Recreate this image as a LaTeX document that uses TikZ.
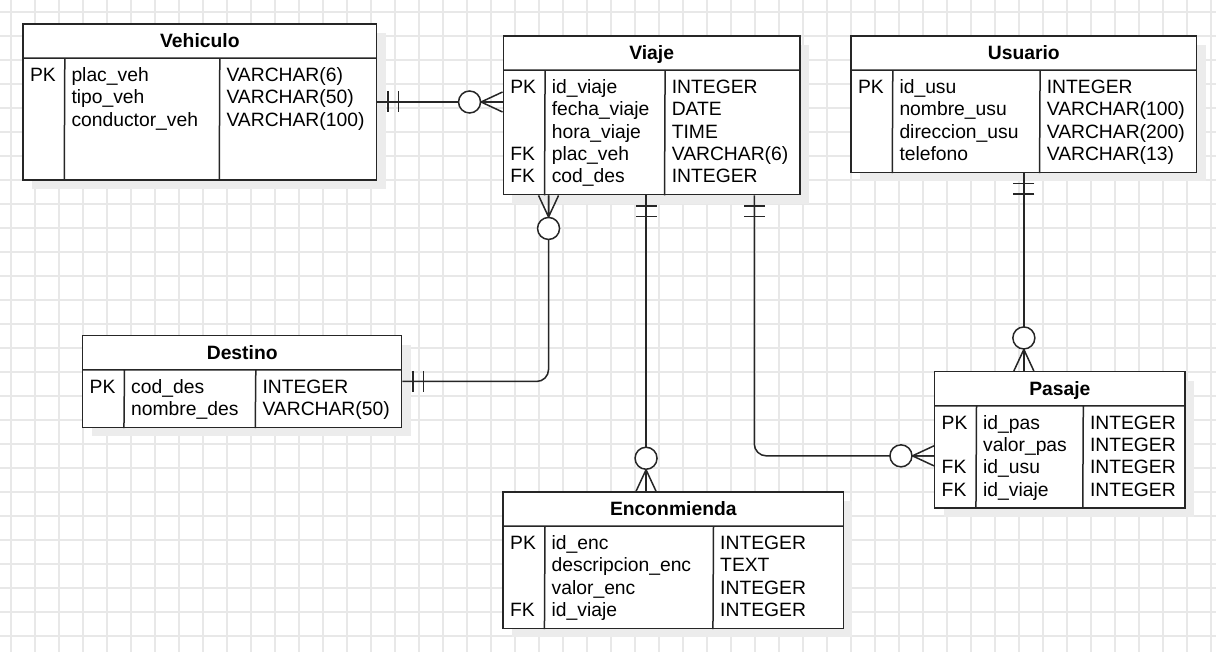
\documentclass[tikz,border=0pt]{standalone}
\usepackage{fontspec}
\setmainfont{Liberation Sans}
\usetikzlibrary{positioning}
\usetikzlibrary{shadows}

\begin{document}
\begin{tikzpicture}[x=1pt, y=-1pt,
    font=\fontsize{19.3pt}{22.3pt}\selectfont,
    gridline/.style = {draw=gray!18, line width=1.6pt},
    tbl/.style = {draw=black!85, line width=1.5pt, fill=white, inner sep=0pt,
        drop shadow={shadow xshift=9pt, shadow yshift=-9pt, fill=gray!15, opacity=1}},
    ttl/.style = {font=\fontsize{19.3pt}{22.3pt}\selectfont\bfseries, inner sep=0pt,
        minimum height=34.5pt, text height=13.8pt, text depth=0pt},
    cell/.style = {inner sep=0pt, anchor=base west},
    rel/.style = {draw=black!85, line width=1.5pt},
    one/.pic = {\draw[rel] (10.5,-10.5) -- (10.5,10.5) (21,-10.5) -- (21,10.5);},
    many/.pic = {\draw[rel] (0,-10) -- (21.5,0) -- (0,10) (0,0) -- (21.5,0);
        \draw[rel, fill=white] (33,0) circle[radius=11];}]
    \useasboundingbox[fill=white] (0,0) rectangle (1216,652);
    % grid
    \foreach \gx in {11,35,...,1211} \draw[gridline] (\gx,0) -- (\gx,652);
    \foreach \gy in {12,36,...,636} \draw[gridline] (0,\gy) -- (1216,\gy);

    % Vehiculo
    \node[tbl, minimum width=353.7pt, minimum height=156pt] (vehiculo) at (199.85,102) {};
    \node[ttl, minimum width=353.7pt] (vehiculo-t) [below=0pt of vehiculo.north] {Vehiculo};
    \draw[rel] (vehiculo-t.south west) -- (vehiculo-t.south east)
        ([xshift=42pt]vehiculo-t.south west) -- ([xshift=42pt]vehiculo.south west)
        ([xshift=197pt]vehiculo-t.south west) -- ([xshift=197pt]vehiculo.south west);
    \foreach \ky/\nm/\ty [count=\i] in {PK/plac\_veh/VARCHAR(6), /tipo\_veh/VARCHAR(50), /conductor\_veh/VARCHAR(100)}
    {
        \node[cell] (vehiculo-k\i) at ([shift={(7,22.3*\i+1)}]vehiculo-t.south west) {\ky};
        \node[cell] (vehiculo-n\i) at ([shift={(48.5,22.3*\i+1)}]vehiculo-t.south west) {\nm};
        \node[cell] (vehiculo-d\i) at ([shift={(203.5,22.3*\i+1)}]vehiculo-t.south west) {\ty};
    }

    % Viaje
    \node[tbl, minimum width=296.7pt, minimum height=158.7pt] (viaje) at (651.65,115.35) {};
    \node[ttl, minimum width=296.7pt] (viaje-t) [below=0pt of viaje.north] {Viaje};
    \draw[rel] (viaje-t.south west) -- (viaje-t.south east)
        ([xshift=42pt]viaje-t.south west) -- ([xshift=42pt]viaje.south west)
        ([xshift=162pt]viaje-t.south west) -- ([xshift=162pt]viaje.south west);
    \foreach \ky/\nm/\ty [count=\i] in {PK/id\_viaje/INTEGER, /fecha\_viaje/DATE, /hora\_viaje/TIME, FK/plac\_veh/VARCHAR(6), FK/cod\_des/INTEGER}
    {
        \node[cell] (viaje-k\i) at ([shift={(7,22.3*\i+1)}]viaje-t.south west) {\ky};
        \node[cell] (viaje-n\i) at ([shift={(48.5,22.3*\i+1)}]viaje-t.south west) {\nm};
        \node[cell] (viaje-d\i) at ([shift={(168.5,22.3*\i+1)}]viaje-t.south west) {\ty};
    }

    % Usuario
    \node[tbl, minimum width=345.7pt, minimum height=136.3pt] (usuario) at (1023.85,104.15) {};
    \node[ttl, minimum width=345.7pt] (usuario-t) [below=0pt of usuario.north] {Usuario};
    \draw[rel] (usuario-t.south west) -- (usuario-t.south east)
        ([xshift=42pt]usuario-t.south west) -- ([xshift=42pt]usuario.south west)
        ([xshift=189.3pt]usuario-t.south west) -- ([xshift=189.3pt]usuario.south west);
    \foreach \ky/\nm/\ty [count=\i] in {PK/id\_usu/INTEGER, /nombre\_usu/VARCHAR(100), /direccion\_usu/VARCHAR(200), /telefono/VARCHAR(13)}
    {
        \node[cell] (usuario-k\i) at ([shift={(7,22.3*\i+1)}]usuario-t.south west) {\ky};
        \node[cell] (usuario-n\i) at ([shift={(48.5,22.3*\i+1)}]usuario-t.south west) {\nm};
        \node[cell] (usuario-d\i) at ([shift={(195.8,22.3*\i+1)}]usuario-t.south west) {\ty};
    }

    % Destino
    \node[tbl, minimum width=319pt, minimum height=91.6pt] (destino) at (242.2,381.5) {};
    \node[ttl, minimum width=319pt] (destino-t) [below=0pt of destino.north] {Destino};
    \draw[rel] (destino-t.south west) -- (destino-t.south east)
        ([xshift=42pt]destino-t.south west) -- ([xshift=42pt]destino.south west)
        ([xshift=173.3pt]destino-t.south west) -- ([xshift=173.3pt]destino.south west);
    \foreach \ky/\nm/\ty [count=\i] in {PK/cod\_des/INTEGER, /nombre\_des/VARCHAR(50)}
    {
        \node[cell] (destino-k\i) at ([shift={(7,22.3*\i+1)}]destino-t.south west) {\ky};
        \node[cell] (destino-n\i) at ([shift={(48.5,22.3*\i+1)}]destino-t.south west) {\nm};
        \node[cell] (destino-d\i) at ([shift={(179.8,22.3*\i+1)}]destino-t.south west) {\ty};
    }

    % Enconmienda
    \node[tbl, minimum width=340.2pt, minimum height=136.3pt] (enconmienda) at (673.3,560.15) {};
    \node[ttl, minimum width=340.2pt] (enconmienda-t) [below=0pt of enconmienda.north] {Enconmienda};
    \draw[rel] (enconmienda-t.south west) -- (enconmienda-t.south east)
        ([xshift=42pt]enconmienda-t.south west) -- ([xshift=42pt]enconmienda.south west)
        ([xshift=210.5pt]enconmienda-t.south west) -- ([xshift=210.5pt]enconmienda.south west);
    \foreach \ky/\nm/\ty [count=\i] in {PK/id\_enc/INTEGER, /descripcion\_enc/TEXT, /valor\_enc/INTEGER, FK/id\_viaje/INTEGER}
    {
        \node[cell] (enconmienda-k\i) at ([shift={(7,22.3*\i+1)}]enconmienda-t.south west) {\ky};
        \node[cell] (enconmienda-n\i) at ([shift={(48.5,22.3*\i+1)}]enconmienda-t.south west) {\nm};
        \node[cell] (enconmienda-d\i) at ([shift={(217,22.3*\i+1)}]enconmienda-t.south west) {\ty};
    }

    % Pasaje
    \node[tbl, minimum width=250.3pt, minimum height=136.3pt] (pasaje) at (1059.85,439.85) {};
    \node[ttl, minimum width=250.3pt] (pasaje-t) [below=0pt of pasaje.north] {Pasaje};
    \draw[rel] (pasaje-t.south west) -- (pasaje-t.south east)
        ([xshift=42pt]pasaje-t.south west) -- ([xshift=42pt]pasaje.south west)
        ([xshift=148.8pt]pasaje-t.south west) -- ([xshift=148.8pt]pasaje.south west);
    \foreach \ky/\nm/\ty [count=\i] in {PK/id\_pas/INTEGER, /valor\_pas/INTEGER, FK/id\_usu/INTEGER, FK/id\_viaje/INTEGER}
    {
        \node[cell] (pasaje-k\i) at ([shift={(7,22.3*\i+1)}]pasaje-t.south west) {\ky};
        \node[cell] (pasaje-n\i) at ([shift={(48.5,22.3*\i+1)}]pasaje-t.south west) {\nm};
        \node[cell] (pasaje-d\i) at ([shift={(155.3,22.3*\i+1)}]pasaje-t.south west) {\ty};
    }

    % relations
    \coordinate (vd) at ([xshift=46pt]viaje.south west);
    \coordinate (ve) at ([xshift=143.5pt]viaje.south west);
    \coordinate (vp) at ([xshift=251.7pt]viaje.south west);
    \coordinate (pv) at ([yshift=-16pt]pasaje.west);
    \draw[rel] (vehiculo.east) -- (vehiculo.east -| viaje.west);
    \draw[rel, rounded corners=12pt] (vd) |- (destino.east);
    \draw[rel] (ve) -- (ve |- enconmienda.north);
    \draw[rel, rounded corners=12pt] (vp) |- (pv);
    \draw[rel] (usuario.south) -- (usuario.south |- pasaje.north);
    \pic at (vehiculo.east) {one};
    \pic[rotate=180] at (vehiculo.east -| viaje.west) {many};
    \pic[rotate=-90] at (vd) {many};
    \pic at (destino.east) {one};
    \pic[rotate=-90] at (ve) {one};
    \pic[rotate=90] at (ve |- enconmienda.north) {many};
    \pic[rotate=-90] at (vp) {one};
    \pic[rotate=180] at (pv) {many};
    \pic[rotate=-90] at (usuario.south) {one};
    \pic[rotate=90] at (usuario.south |- pasaje.north) {many};
\end{tikzpicture}
\end{document}
